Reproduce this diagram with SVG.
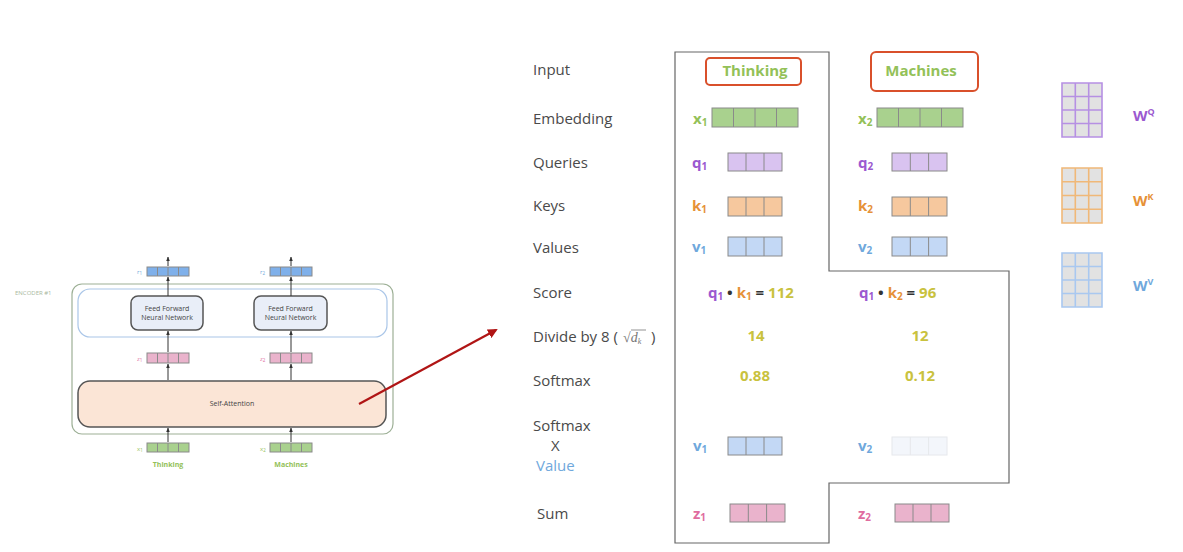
<svg xmlns="http://www.w3.org/2000/svg" width="1183" height="552" viewBox="0 0 1183 552">
<defs>
<marker id="ah" viewBox="0 0 10 10" refX="9" refY="5" markerWidth="4.5" markerHeight="4.5" orient="auto"><path d="M0,1 L10,5 L0,9 z" fill="#333"/></marker>
<marker id="rah" viewBox="0 0 10 10" refX="8" refY="5" markerWidth="4.5" markerHeight="4.5" orient="auto"><path d="M0,0 L10,5 L0,10 z" fill="#b01515"/></marker>
</defs>
<style>
.lbl{font-family:"Open Sans",sans-serif;font-size:15px;fill:#4a4a4a}
.big{font-family:"Open Sans",sans-serif;font-size:15px;font-weight:bold}
.sm{font-family:"Open Sans",sans-serif;font-size:7px;fill:#444}
.tiny{font-family:"Open Sans",sans-serif;font-size:6px}
.vec{stroke:#8a8a8a;stroke-width:1}
.cell{stroke:#8a8a8a;stroke-width:1}
.g{fill:#a9d18e}.p{fill:#d9c3f0}.o{fill:#f6c89e}.b{fill:#c3d8f5}.pk{fill:#eab3cc}.bl{fill:#7fb0ea}
.tg{fill:#93c158}.tp{fill:#9b59d0}.to{fill:#e69138}.tb{fill:#6fa8dc}.tpk{fill:#e06c9f}.ty{fill:#c9c23e}.td{fill:#333}
.arr{stroke:#333;stroke-width:1;fill:none;marker-end:url(#ah)}
.wg{stroke-width:1.6;fill:none}
</style>

<!-- Left encoder -->
<g id="encoder">
  <text x="15" y="295" class="tiny" font-size="7" fill="#a9b8a0">ENCODER #1</text>
  <rect x="72" y="284" width="321" height="150" rx="10" fill="none" stroke="#9db096" stroke-width="1.2"/>
  <rect x="78" y="289" width="309" height="48" rx="12" fill="none" stroke="#aac6e8" stroke-width="1.2"/>
</g>
<g id="ffn1">
  <rect x="131" y="296" width="72" height="34" rx="7" fill="#e9eef8" stroke="#555" stroke-width="1.5"/>
  <text x="167" y="311" class="sm" text-anchor="middle">Feed Forward</text>
  <text x="167" y="320" class="sm" text-anchor="middle">Neural Network</text>
</g>
<g id="ffn2">
  <rect x="254" y="296" width="73" height="34" rx="7" fill="#e9eef8" stroke="#555" stroke-width="1.5"/>
  <text x="290.5" y="311" class="sm" text-anchor="middle">Feed Forward</text>
  <text x="290.5" y="320" class="sm" text-anchor="middle">Neural Network</text>
</g>
<g id="selfattn">
  <rect x="78" y="381" width="308" height="46" rx="12" fill="#fbe5d6" stroke="#555" stroke-width="1.5"/>
  <text x="232" y="406" class="sm" text-anchor="middle" font-size="7.5">Self-Attention</text>
</g>
<g id="enc-r1">
  <text x="137" y="274" class="tiny tb">r<tspan font-size="4.5" dy="1">1</tspan></text>
  <rect x="147" y="267" width="42" height="9" class="bl vec"/>
  <path d="M157.5,267v9M168,267v9M178.5,267v9" class="cell"/>
</g>
<g id="enc-r2">
  <text x="260" y="274" class="tiny tb">r<tspan font-size="4.5" dy="1">2</tspan></text>
  <rect x="270" y="267" width="42" height="9" class="bl vec"/>
  <path d="M280.5,267v9M291,267v9M301.5,267v9" class="cell"/>
</g>
<g id="enc-z1">
  <text x="137" y="361" class="tiny tpk">z<tspan font-size="4.5" dy="1">1</tspan></text>
  <rect x="147" y="353" width="42" height="10" class="pk vec"/>
  <path d="M157.5,353v10M168,353v10M178.5,353v10" class="cell"/>
</g>
<g id="enc-z2">
  <text x="260" y="361" class="tiny tpk">z<tspan font-size="4.5" dy="1">2</tspan></text>
  <rect x="270" y="353" width="42" height="10" class="pk vec"/>
  <path d="M280.5,353v10M291,353v10M301.5,353v10" class="cell"/>
</g>
<g id="enc-x1">
  <text x="137" y="451" class="tiny tg">x<tspan font-size="4.5" dy="1">1</tspan></text>
  <rect x="147" y="443" width="42" height="9" class="g vec"/>
  <path d="M157.5,443v9M168,443v9M178.5,443v9" class="cell"/>
  <text x="168" y="467" class="sm tg" font-weight="bold" text-anchor="middle">Thinking</text>
</g>
<g id="enc-x2">
  <text x="260" y="451" class="tiny tg">x<tspan font-size="4.5" dy="1">2</tspan></text>
  <rect x="270" y="443" width="42" height="9" class="g vec"/>
  <path d="M280.5,443v9M291,443v9M301.5,443v9" class="cell"/>
  <text x="291" y="467" class="sm tg" font-weight="bold" text-anchor="middle">Machines</text>
</g>

<!-- Right panel -->
<g id="labels">
  <text x="533" y="75" class="lbl">Input</text>
  <text x="533" y="124" class="lbl">Embedding</text>
  <text x="533" y="168" class="lbl">Queries</text>
  <text x="533" y="211" class="lbl">Keys</text>
  <text x="533" y="253" class="lbl">Values</text>
  <text x="533" y="298" class="lbl">Score</text>
  <text x="533" y="342" class="lbl">Divide by 8 (</text>
  <text x="623" y="342" font-family="Liberation Serif, serif" font-size="14" fill="#777">√<tspan font-style="italic">d</tspan><tspan font-style="italic" font-size="8" dy="2">k</tspan></text>
  <line x1="631" y1="330" x2="646" y2="330" stroke="#777" stroke-width="0.8"/>
  <text x="651" y="342" class="lbl">)</text>
  <text x="533" y="386" class="lbl">Softmax</text>
  <text x="533" y="431" class="lbl">Softmax</text>
  <text x="551" y="451" class="lbl">X</text>
  <text x="536" y="471" class="lbl tb">Value</text>
  <text x="537" y="519" class="lbl">Sum</text>
</g>

<g id="outline">
  <polygon points="675,52 829,52 829,271 1009,271 1009,483 829,483 829,543 675,543" fill="none" stroke="#666" stroke-width="1.2"/>
</g>

<g id="in-thinking">
  <rect x="706" y="58" width="95" height="27" rx="4" fill="none" stroke="#d9502b" stroke-width="2"/>
  <text x="755" y="76" class="big tg" text-anchor="middle">Thinking</text>
</g>
<g id="in-machines">
  <rect x="871" y="52" width="107" height="39" rx="5" fill="none" stroke="#d9502b" stroke-width="2"/>
  <text x="921" y="76" class="big tg" text-anchor="middle">Machines</text>
</g>

<g id="x1">
  <text x="693" y="124" class="big tg" font-weight="normal">x<tspan font-size="10" dy="2">1</tspan></text>
  <rect x="712" y="108" width="86" height="19" class="g vec"/>
  <path d="M733.5,108v19M755,108v19M776.5,108v19" class="cell"/>
</g>
<g id="x2">
  <text x="858" y="124" class="big tg" font-weight="normal">x<tspan font-size="10" dy="2">2</tspan></text>
  <rect x="877" y="108" width="86" height="19" class="g vec"/>
  <path d="M898.5,108v19M920,108v19M941.5,108v19" class="cell"/>
</g>
<g id="q1">
  <text x="692" y="168" class="big tp">q<tspan font-size="10" dy="2">1</tspan></text>
  <rect x="728" y="153" width="54" height="18" class="p vec"/>
  <path d="M746,153v18M764,153v18" class="cell"/>
</g>
<g id="q2">
  <text x="858" y="168" class="big tp">q<tspan font-size="10" dy="2">2</tspan></text>
  <rect x="892" y="153" width="55" height="18" class="p vec"/>
  <path d="M910.3,153v18M928.6,153v18" class="cell"/>
</g>
<g id="k1">
  <text x="692" y="211" class="big to">k<tspan font-size="10" dy="2">1</tspan></text>
  <rect x="728" y="197" width="54" height="19" class="o vec"/>
  <path d="M746,197v19M764,197v19" class="cell"/>
</g>
<g id="k2">
  <text x="858" y="211" class="big to">k<tspan font-size="10" dy="2">2</tspan></text>
  <rect x="892" y="197" width="55" height="19" class="o vec"/>
  <path d="M910.3,197v19M928.6,197v19" class="cell"/>
</g>
<g id="v1">
  <text x="692" y="252" class="big tb">v<tspan font-size="10" dy="2">1</tspan></text>
  <rect x="728" y="237" width="54" height="19" class="b vec"/>
  <path d="M746,237v19M764,237v19" class="cell"/>
</g>
<g id="v2">
  <text x="858" y="252" class="big tb">v<tspan font-size="10" dy="2">2</tspan></text>
  <rect x="892" y="237" width="55" height="19" class="b vec"/>
  <path d="M910.3,237v19M928.6,237v19" class="cell"/>
</g>

<g id="score1">
  <text x="708" y="298" class="big"><tspan class="tp">q<tspan font-size="10" dy="2">1</tspan></tspan><tspan class="td" dy="-2"> • </tspan><tspan class="to">k<tspan font-size="10" dy="2">1</tspan></tspan><tspan class="td" dy="-2"> = </tspan><tspan class="ty">112</tspan></text>
</g>
<g id="score2">
  <text x="859" y="298" class="big"><tspan class="tp">q<tspan font-size="10" dy="2">1</tspan></tspan><tspan class="td" dy="-2"> • </tspan><tspan class="to">k<tspan font-size="10" dy="2">2</tspan></tspan><tspan class="td" dy="-2"> = </tspan><tspan class="ty">96</tspan></text>
</g>
<g id="div1"><text x="756" y="341" class="big ty" text-anchor="middle">14</text></g>
<g id="div2"><text x="920" y="341" class="big ty" text-anchor="middle">12</text></g>
<g id="sm1"><text x="755" y="381" class="big ty" text-anchor="middle">0.88</text></g>
<g id="sm2"><text x="920" y="381" class="big ty" text-anchor="middle">0.12</text></g>

<g id="sv1">
  <text x="693" y="451" class="big tb">v<tspan font-size="10" dy="2">1</tspan></text>
  <rect x="728" y="437" width="54" height="18" class="b vec"/>
  <path d="M746,437v18M764,437v18" class="cell"/>
</g>
<g id="sv2">
  <text x="858" y="451" class="big tb">v<tspan font-size="10" dy="2">2</tspan></text>
  <rect x="892" y="437" width="55" height="18" fill="#f3f6fb" stroke="#e6e8ec" stroke-width="1"/>
  <path d="M910.3,437v18M928.6,437v18" stroke="#e6e8ec" stroke-width="1"/>
</g>
<g id="z1">
  <text x="693" y="519" class="big tpk">z<tspan font-size="10" dy="2">1</tspan></text>
  <rect x="730" y="504" width="55" height="18" class="pk vec"/>
  <path d="M748.3,504v18M766.6,504v18" class="cell"/>
</g>
<g id="z2">
  <text x="858" y="519" class="big tpk">z<tspan font-size="10" dy="2">2</tspan></text>
  <rect x="895" y="504" width="54" height="18" class="pk vec"/>
  <path d="M913,504v18M931,504v18" class="cell"/>
</g>

<g id="WQ">
  <rect x="1062" y="83" width="40" height="54" fill="#e2e2e2"/>
  <path d="M1062,83h40v54h-40zM1075.3,83v54M1088.7,83v54M1062,96.5h40M1062,110h40M1062,123.5h40" class="wg" stroke="#b690e3"/>
  <text x="1133" y="121" class="big tp">W<tspan font-size="9" dy="-6">Q</tspan></text>
</g>
<g id="WK">
  <rect x="1062" y="168" width="40" height="55" fill="#e2e2e2"/>
  <path d="M1062,168h40v55h-40zM1075.3,168v55M1088.7,168v55M1062,181.75h40M1062,195.5h40M1062,209.25h40" class="wg" stroke="#f0b878"/>
  <text x="1133" y="206" class="big to">W<tspan font-size="9" dy="-6">K</tspan></text>
</g>
<g id="WV">
  <rect x="1062" y="253" width="40" height="54" fill="#e2e2e2"/>
  <path d="M1062,253h40v54h-40zM1075.3,253v54M1088.7,253v54M1062,266.5h40M1062,280h40M1062,293.5h40" class="wg" stroke="#a9c8f0"/>
  <text x="1133" y="291" class="big tb">W<tspan font-size="9" dy="-6">V</tspan></text>
</g>

<g id="connectors">
  <line x1="168" y1="266" x2="168" y2="257" class="arr"/>
  <line x1="291" y1="266" x2="291" y2="257" class="arr"/>
  <line x1="168" y1="296" x2="168" y2="277" class="arr"/>
  <line x1="291" y1="296" x2="291" y2="277" class="arr"/>
  <line x1="168" y1="352" x2="168" y2="331" class="arr"/>
  <line x1="291" y1="352" x2="291" y2="331" class="arr"/>
  <line x1="168" y1="380" x2="168" y2="364" class="arr"/>
  <line x1="291" y1="380" x2="291" y2="364" class="arr"/>
  <line x1="168" y1="442" x2="168" y2="428" class="arr"/>
  <line x1="291" y1="442" x2="291" y2="428" class="arr"/>
  <line x1="359" y1="404" x2="496" y2="330" stroke="#b01515" stroke-width="2.2" marker-end="url(#rah)"/>
</g>
</svg>
